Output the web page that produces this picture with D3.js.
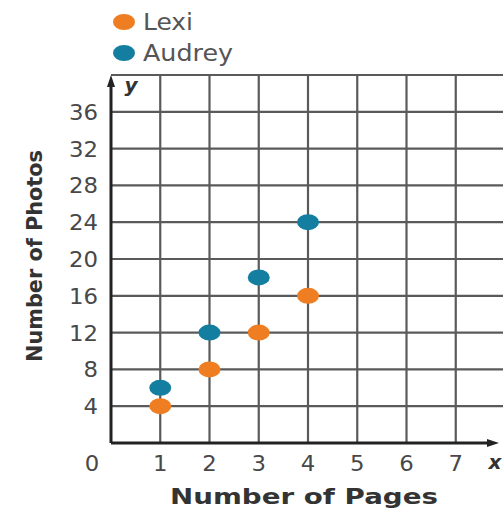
<!DOCTYPE html>
<html>
<head>
<meta charset="utf-8">
<script src="https://cdn.jsdelivr.net/npm/d3@7"></script>
<style>
  body { margin: 0; background: #fff; }
  text { font-family: "DejaVu Sans", "Open Sans", sans-serif; }
</style>
</head>
<body>
<div id="chart"></div>
<script>
// pages vs photos for two scrapbooks
const pages = [1, 2, 3, 4];
const lexiPhotos = [4, 8, 12, 16];
const audreyPhotos = [6, 12, 18, 24];
const xTicks = [1, 2, 3, 4, 5, 6, 7];
const yTicks = [4, 8, 12, 16, 20, 24, 28, 32, 36];
const seriesNames = ["Lexi", "Audrey"];
const seriesColors = ["#ef7d22", "#137ea0"];

const width = 503, height = 510;
const svg = d3.select("#chart").append("svg")
    .attr("width", width)
    .attr("height", height);

// plot area
const x0 = 111, xEnd = 505;
const y0 = 443, yTop = 75;
const x = d3.scaleLinear().domain([0, 8]).range([x0, xEnd]);
const y = d3.scaleLinear().domain([0, 40]).range([y0, yTop]);

// grid
const grid = svg.append("g");
grid.selectAll("line.v")
    .data(d3.range(1, 9))
    .enter().append("line")
    .attr("x1", d => x(d)).attr("x2", d => x(d))
    .attr("y1", yTop).attr("y2", y0)
    .attr("stroke", "#5a5a5a").attr("stroke-width", 2.2);
grid.selectAll("line.h")
    .data(d3.range(4, 41, 4))
    .enter().append("line")
    .attr("x1", x0).attr("x2", width)
    .attr("y1", d => y(d)).attr("y2", d => y(d))
    .attr("stroke", "#5a5a5a").attr("stroke-width", 2.2);

// axes lines
svg.append("line")
    .attr("x1", x0).attr("x2", 492)
    .attr("y1", y0).attr("y2", y0)
    .attr("stroke", "#222").attr("stroke-width", 3);
svg.append("path")
    .attr("d", `M${499},${y0} L${487},${y0 - 4} L${487},${y0 + 4} Z`)
    .attr("fill", "#222");
svg.append("line")
    .attr("x1", x0).attr("x2", x0)
    .attr("y1", y0).attr("y2", yTop + 8)
    .attr("stroke", "#222").attr("stroke-width", 3);
svg.append("path")
    .attr("d", `M${x0},${yTop} L${x0 - 4},${yTop + 12} L${x0 + 4},${yTop + 12} Z`)
    .attr("fill", "#222");

// tick labels (the source font is wide, so stretch a bit)
const digitW = 14.5;
svg.selectAll("text.xt")
    .data(xTicks)
    .enter().append("text")
    .attr("x", d => x(d))
    .attr("y", 471)
    .attr("text-anchor", "middle")
    .attr("font-size", 21)
    .attr("fill", "#484848")
    .attr("textLength", d => String(d).length * digitW)
    .attr("lengthAdjust", "spacingAndGlyphs")
    .text(d => d);
svg.selectAll("text.yt")
    .data(yTicks)
    .enter().append("text")
    .attr("x", 98)
    .attr("y", d => y(d) + 8)
    .attr("text-anchor", "end")
    .attr("font-size", 21)
    .attr("fill", "#484848")
    .attr("textLength", d => String(d).length * digitW)
    .attr("lengthAdjust", "spacingAndGlyphs")
    .text(d => d);
svg.append("text")
    .attr("x", 92).attr("y", 471)
    .attr("text-anchor", "middle")
    .attr("font-size", 21).attr("fill", "#484848")
    .attr("textLength", digitW)
    .attr("lengthAdjust", "spacingAndGlyphs")
    .text("0");

// axis variable letters
svg.append("text")
    .attr("x", 495).attr("y", 469)
    .attr("text-anchor", "middle")
    .attr("font-size", 20).attr("font-weight", "bold").attr("font-style", "italic")
    .attr("fill", "#333")
    .text("x");
svg.append("text")
    .attr("x", 131).attr("y", 92)
    .attr("text-anchor", "middle")
    .attr("font-size", 20).attr("font-weight", "bold").attr("font-style", "italic")
    .attr("fill", "#333")
    .text("y");

// axis titles
svg.append("text")
    .attr("x", 304).attr("y", 504)
    .attr("text-anchor", "middle")
    .attr("font-size", 22).attr("font-weight", "bold")
    .attr("fill", "#333")
    .attr("textLength", 268)
    .attr("lengthAdjust", "spacingAndGlyphs")
    .text("Number of Pages");
svg.append("text")
    .attr("transform", "translate(42,256) rotate(-90)")
    .attr("text-anchor", "middle")
    .attr("font-size", 22).attr("font-weight", "bold")
    .attr("fill", "#333")
    .attr("textLength", 212)
    .attr("lengthAdjust", "spacingAndGlyphs")
    .text("Number of Photos");

// points
const series = [lexiPhotos, audreyPhotos];
series.forEach((vals, i) => {
    svg.selectAll("ellipse.s" + i)
        .data(pages.map((p, j) => ({ p: p, v: vals[j] })))
        .enter().append("ellipse")
        .attr("cx", d => x(d.p))
        .attr("cy", d => y(d.v))
        .attr("rx", 11).attr("ry", 8)
        .attr("fill", seriesColors[i]);
});

// legend
const legendW = [50, 90];
const legend = svg.selectAll("g.legend")
    .data(seriesNames)
    .enter().append("g")
    .attr("transform", (d, i) => `translate(124,${22 + i * 31})`);
legend.append("ellipse")
    .attr("rx", 11).attr("ry", 8)
    .attr("fill", (d, i) => seriesColors[i]);
legend.append("text")
    .attr("x", 19).attr("y", 8)
    .attr("font-size", 23)
    .attr("fill", "#555")
    .attr("textLength", (d, i) => legendW[i])
    .attr("lengthAdjust", "spacingAndGlyphs")
    .text(d => d);
</script>
</body>
</html>
